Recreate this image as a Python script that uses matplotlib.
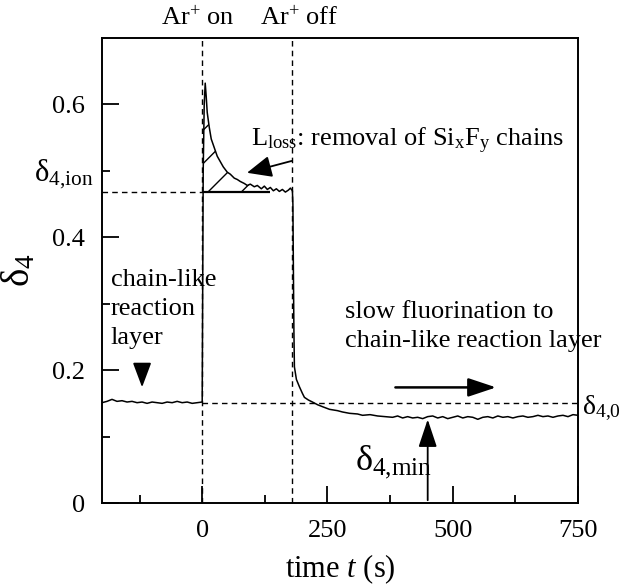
import matplotlib.pyplot as plt

plt.rcParams.update({
    "font.family": "Liberation Serif",
    "mathtext.fontset": "custom",
    "mathtext.rm": "Liberation Serif",
    "mathtext.it": "Liberation Serif:italic",
    "font.size": 19,
})

# delta_4 signal
t_before = [-200, -190, -180, -170, -160, -150, -140, -130, -120, -110, -100,
            -90, -80, -70, -60, -50, -40, -30, -20, -10, 0]
d_before = [0.151, 0.153, 0.156, 0.153, 0.154, 0.152, 0.153, 0.151, 0.152, 0.150,
            0.152, 0.151, 0.150, 0.152, 0.151, 0.153, 0.151, 0.152, 0.150, 0.151, 0.152]

t_ion = [2, 4, 6, 8, 10, 14, 18, 24, 30, 36, 42, 50, 56, 64, 70, 76, 84, 90, 96,
         104, 110, 118, 124, 130, 136, 142, 148, 154, 160, 166, 172, 176, 180]
d_ion = [0.50, 0.60, 0.632, 0.612, 0.588, 0.566, 0.548, 0.535, 0.522, 0.514,
         0.506, 0.498, 0.495, 0.489, 0.487, 0.484, 0.481, 0.478, 0.480, 0.476,
         0.478, 0.473, 0.477, 0.472, 0.475, 0.470, 0.473, 0.469, 0.472, 0.468,
         0.471, 0.474, 0.470]

t_after = [181, 182, 183, 184, 188, 194, 200, 204, 212, 220, 230, 240, 254, 270,
           280, 294, 310, 320, 335, 350, 365, 380, 390, 400, 410, 420, 430, 440,
           450, 460, 470, 480, 490, 500, 510, 520, 530, 540, 550, 560, 570, 580,
           590, 600, 610, 620, 630, 640, 650, 660, 670, 680, 690, 700, 710, 720,
           730, 740, 750]
d_after = [0.45, 0.35, 0.26, 0.205, 0.186, 0.175, 0.165, 0.159, 0.155, 0.152,
           0.148, 0.145, 0.141, 0.139, 0.137, 0.135, 0.134, 0.132, 0.133, 0.131,
           0.130, 0.129, 0.131, 0.128, 0.130, 0.128, 0.129, 0.127, 0.130, 0.131,
           0.128, 0.130, 0.127, 0.129, 0.131, 0.128, 0.130, 0.129, 0.126, 0.129,
           0.130, 0.128, 0.131, 0.129, 0.130, 0.128, 0.130, 0.131, 0.129, 0.130,
           0.132, 0.130, 0.131, 0.129, 0.131, 0.132, 0.130, 0.133, 0.132]

t_on, t_off = 0, 180
d_ion_level = 0.468
d_zero = 0.150
t_loss_end = 136
t_min = 450
d_min = 0.130

time = t_before + t_ion + t_after
delta = d_before + d_ion + d_after

fig = plt.figure(figsize=(6.23, 5.87), dpi=100)
ax = fig.add_axes([0.1637, 0.1431, 0.7641, 0.7922])

ax.plot(time, delta, color="black", lw=1.1)

# hatched loss region
t_h = [t for t in t_ion if t <= t_loss_end]
d_h = d_ion[:len(t_h)]
ax.fill_between(t_h, d_h, d_ion_level, facecolor="none", edgecolor="black",
                hatch="/", lw=0)
ax.hlines(d_ion_level, t_on, t_loss_end, color="black", lw=1.6)

dash = (0, (4, 3))
ax.axvline(t_on, color="black", lw=1, linestyle=dash)
ax.axvline(t_off, color="black", lw=1, linestyle=dash)
ax.hlines(d_ion_level, -200, t_on, color="black", lw=1, linestyle=dash)
ax.hlines(d_zero, t_on, 750, color="black", lw=1, linestyle=dash)

ax.set_xlim(-200, 750)
ax.set_ylim(0, 0.7)
ax.set_xticks([0, 250, 500, 750])
ax.set_xticks([-125, 125, 375, 625], minor=True)
ax.set_yticks([0, 0.2, 0.4, 0.6])
ax.set_yticklabels(["0", "0.2", "0.4", "0.6"])
ax.set_yticks([0.1, 0.3, 0.5], minor=True)
ax.tick_params(which="major", direction="in", length=12, width=1.3, pad=12,
               labelsize=19)
ax.tick_params(which="minor", direction="in", length=6, width=1.3)
for s in ax.spines.values():
    s.set_linewidth(1.4)

ax.set_xlabel("time $t$ (s)", fontsize=22, labelpad=8)
ax.set_ylabel(r"δ$_{\mathrm{4}}$", fontsize=28, labelpad=10)

# annotations
ax.text(-8, 0.729, "Ar$^{+}$ on", ha="center", va="center", clip_on=False)
ax.text(194, 0.729, "Ar$^{+}$ off", ha="center", va="center", clip_on=False)
ax.text(-216, 0.495, r"δ$_{\mathrm{4{,}ion}}$", ha="right", va="center",
        fontsize=22, clip_on=False)
ax.text(758, 0.143, r"δ$_{\mathrm{4{,}0}}$", ha="left", va="center",
        fontsize=20, clip_on=False)
ax.text(98, 0.545,
        r"L$_{\mathrm{loss}}$: removal of Si$_{\mathrm{x}}$F$_{\mathrm{y}}$ chains",
        ha="left", va="center")
ax.annotate("", xy=(84, 0.496), xytext=(184, 0.516),
            arrowprops=dict(arrowstyle="-|>,head_length=0.8,head_width=0.35",
                            color="black", lw=1.3))
ax.text(-183, 0.352, "chain-like\nreaction\nlayer", ha="left", va="top",
        linespacing=1.4)
ax.annotate("", xy=(-120, 0.170), xytext=(-120, 0.207),
            arrowprops=dict(arrowstyle="-|>,head_length=0.8,head_width=0.3",
                            color="black", lw=1.3))
ax.text(284, 0.266, "slow fluorination to\nchain-like reaction layer",
        ha="left", va="center", linespacing=1.4)
ax.annotate("", xy=(592, 0.174), xytext=(380, 0.174),
            arrowprops=dict(arrowstyle="-|>,head_length=0.9,head_width=0.3",
                            color="black", lw=1.8))
ax.text(304, 0.062, r"δ$_{\mathrm{4{,}min}}$", ha="left", va="center", fontsize=26)
ax.annotate("", xy=(t_min, d_min), xytext=(t_min, 0),
            arrowprops=dict(arrowstyle="-|>,head_length=0.9,head_width=0.3",
                            color="black", lw=1.3))

plt.savefig("out.png", dpi=100)
